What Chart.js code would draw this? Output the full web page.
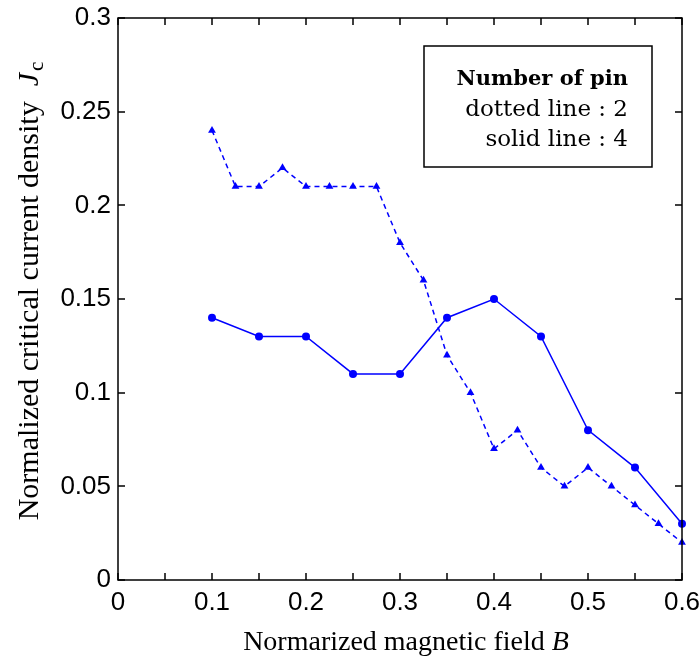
<!DOCTYPE html>
<html>
<head>
<meta charset="utf-8">
<script src="https://cdn.jsdelivr.net/npm/chart.js@4.4.1/dist/chart.umd.min.js"></script>
<style>
  html,body{margin:0;padding:0;background:#fff;}
  #wrap{width:699px;height:660px;}
</style>
</head>
<body>
<div id="wrap"><canvas id="chart" width="699" height="660"></canvas></div>
<script>
// ── datos ──────────────────────────────────────────────
const campoPin2 = [0.1,0.125,0.15,0.175,0.2,0.225,0.25,0.275,0.3,0.325,0.35,0.375,0.4,0.425,0.45,0.475,0.5,0.525,0.55,0.575,0.6];
const jcPin2    = [0.24,0.21,0.21,0.22,0.21,0.21,0.21,0.21,0.18,0.16,0.12,0.10,0.07,0.08,0.06,0.05,0.06,0.05,0.04,0.03,0.02];
const campoPin4 = [0.1,0.15,0.2,0.25,0.3,0.35,0.4,0.45,0.5,0.55,0.6];
const jcPin4    = [0.14,0.13,0.13,0.11,0.11,0.14,0.15,0.13,0.08,0.06,0.03];
const legendLines = ['Number of pin','dotted line : 2','solid line : 4'];

const AZUL = '#0000ff';
const SANS = '"Liberation Sans", Arial, sans-serif';
const SERIF = '"Liberation Serif", "Times New Roman", serif';
const SERIF_LEY = '"DejaVu Serif", serif';

// caja, ticks hacia adentro, títulos y leyenda
const marco = {
  id:'marco',
  afterDraw(chart) {
    const {ctx, chartArea:a, scales:{x, y}} = chart;
    ctx.save();
    ctx.strokeStyle = '#000';
    ctx.lineWidth = 1.5;
    ctx.strokeRect(a.left, a.top, a.right-a.left, a.bottom-a.top);
    const TL = 7;
    ctx.beginPath();
    x.ticks.forEach(t => {
      const px = Math.round(x.getPixelForValue(t.value));
      ctx.moveTo(px, a.bottom); ctx.lineTo(px, a.bottom-TL);
      ctx.moveTo(px, a.top);    ctx.lineTo(px, a.top+TL);
    });
    y.ticks.forEach(t => {
      const py = Math.round(y.getPixelForValue(t.value));
      ctx.moveTo(a.left, py);  ctx.lineTo(a.left+TL, py);
      ctx.moveTo(a.right, py); ctx.lineTo(a.right-TL, py);
    });
    ctx.stroke();

    // título eje x
    ctx.fillStyle = '#000';
    ctx.textBaseline = 'alphabetic';
    const fx = '28px ' + SERIF, fxi = 'italic 28px ' + SERIF;
    ctx.font = fx;
    const t1 = 'Normarized magnetic field ';
    const w1 = ctx.measureText(t1).width;
    ctx.font = fxi;
    const w2 = ctx.measureText('B').width;
    let sx = 406 - (w1+w2)/2;
    ctx.font = fx;  ctx.fillText(t1, sx, 650);
    ctx.font = fxi; ctx.fillText('B', sx+w1, 650);

    // título eje y
    ctx.save();
    ctx.translate(38, 0);
    ctx.rotate(-Math.PI/2);
    const fy = '30px ' + SERIF, fyi = 'italic 30px ' + SERIF, fys = '21px ' + SERIF;
    ctx.font = fy;
    const y1 = 'Normalized critical current density  ';
    const yw1 = ctx.measureText(y1).width;
    ctx.font = fyi;
    const yw2 = ctx.measureText('J').width;
    ctx.font = fys;
    const yw3 = ctx.measureText('c').width;
    const total = yw1+yw2+yw3+2;
    let s = -(291 + total/2);
    ctx.font = fy;  ctx.fillText(y1, s, 0);
    ctx.font = fyi; ctx.fillText('J', s+yw1, 0);
    ctx.font = fys; ctx.fillText('c', s+yw1+yw2+2, 5);
    ctx.restore();

    // leyenda
    const bx = 424, by = 46, bw = 228, bh = 121;
    ctx.lineWidth = 1.5;
    ctx.strokeRect(bx, by, bw, bh);
    ctx.textAlign = 'right';
    const rx = bx + bw - 24;
    ctx.font = 'bold 21px ' + SERIF_LEY;
    ctx.fillText(legendLines[0], rx, 85);
    ctx.font = '23px ' + SERIF_LEY;
    ctx.fillText(legendLines[1], rx, 116);
    ctx.fillText(legendLines[2], rx, 146);
    ctx.restore();
  }
};

new Chart(document.getElementById('chart'), {
  type:'line',
  data:{
    datasets:[
      {
        label:'2', data:campoPin2.map((v,i)=>({x:v, y:jcPin2[i]})),
        borderColor:AZUL, backgroundColor:AZUL, borderWidth:1.5, borderDash:[5,4],
        pointStyle:'triangle', pointRadius:4.5, pointBorderWidth:0, clip:false, tension:0,
      },
      {
        label:'4', data:campoPin4.map((v,i)=>({x:v, y:jcPin4[i]})),
        borderColor:AZUL, backgroundColor:AZUL, borderWidth:1.5,
        pointStyle:'circle', pointRadius:4, pointBorderWidth:0, clip:false, tension:0,
      }
    ]
  },
  options:{
    responsive:false, animation:false,
    layout:{padding:{top:18, right:17, left:0, bottom:0}},
    plugins:{legend:{display:false}, tooltip:{enabled:false}},
    scales:{
      x:{
        type:'linear', min:0, max:0.6,
        grid:{display:false, drawTicks:false}, border:{display:false},
        ticks:{
          stepSize:0.05, color:'#000', padding:7, maxRotation:0, autoSkip:false,
          font:{family:SANS, size:26},
          callback:v => Math.round(v*100)%10===0 ? String(Math.round(v*10)/10) : '',
        },
        afterFit:s => { s.height = 80; s.paddingLeft = 0; s.paddingRight = 0; },
      },
      y:{
        type:'linear', min:0, max:0.3,
        grid:{display:false, drawTicks:false}, border:{display:false},
        ticks:{
          stepSize:0.05, color:'#000', padding:7, autoSkip:false,
          font:{family:SANS, size:26},
          callback:v => String(Math.round(v*100)/100),
        },
        afterFit:s => { s.width = 118; s.paddingTop = 0; s.paddingBottom = 0; },
      }
    }
  },
  plugins:[marco]
});
</script>
</body>
</html>
